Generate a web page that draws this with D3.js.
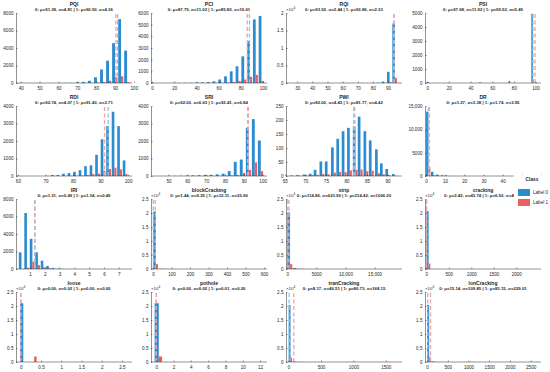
<!DOCTYPE html>
<html>
<head>
<meta charset="utf-8">
<script src="https://cdn.jsdelivr.net/npm/d3@7"></script>
<style>
  body { margin: 0; background: #fff; }
  svg text { font-family: "Liberation Sans", Arial, sans-serif; }
</style>
</head>
<body>
<svg id="chart" width="550" height="372"></svg>
<script>
// ---- data ----
const panelNames = ['PQI', 'PCI', 'RQI', 'PSI', 'RDI', 'SRI', 'PWI', 'DR',
  'IRI', 'blockCracking', 'strip', 'cracking', 'loose', 'pothole', 'tranCracking', 'lonCracking'];
const mean0 = [91.38, 87.79, 93.92, 97.68, 92.74, 92.03, 82.00, 1.27, 1.31, 1.44, 114.86, 2.45, 0.00, 0.00, 8.17, 15.14];
const std0 = [4.81, 11.02, 2.44, 11.92, 4.07, 6.63, 4.43, 3.38, 0.49, 9.25, 623.90, 43.74, 0.02, 0.02, 46.51, 109.85];
const mean1 = [90.50, 85.82, 93.86, 99.52, 91.43, 92.41, 81.77, 1.74, 1.34, 12.11, 314.42, 6.92, 0.00, 0.01, 80.73, 83.15];
const std1 = [4.36, 10.01, 2.33, 5.49, 3.71, 6.84, 4.42, 3.95, 0.49, 25.96, 1006.20, 48.57, 0.00, 0.26, 168.15, 229.01];

// bin centres, bin width, counts for Label 0 / Label 1
const pqiBins = [64.4, 67.6, 70.8, 74.0, 77.2, 80.4, 83.6, 86.8, 90.0, 93.2, 96.4];
const pqi0 = [10, 20, 70, 130, 250, 650, 1550, 2550, 4550, 7300, 3700];
const pqi1 = [0, 1, 3, 8, 20, 45, 110, 260, 650, 760, 110];

const pciBins = [20.6, 25.8, 31.0, 36.2, 41.4, 46.6, 51.8, 57.0, 62.2, 67.4, 72.6, 77.8, 83.0, 88.2, 93.4, 98.6];
const pci0 = [5, 8, 12, 20, 30, 50, 80, 150, 300, 570, 1000, 1430, 2280, 3600, 5450, 5750];
const pci1 = [0, 0, 1, 1, 2, 3, 5, 8, 20, 40, 100, 180, 300, 530, 700, 180];

const rqiBins = [80.5, 84.0, 87.5, 91.0, 94.5];
const rqi0 = [30, 80, 400, 3200, 17000];
const rqi1 = [0, 5, 30, 250, 1450];

const psiBins = [1.5, 49.5, 76.5, 97.5];
const psi0 = [60, 50, 150, 4950];
const psi1 = [5, 3, 15, 250];

const rdiBins = [73, 75, 77, 79, 81, 83, 85, 87, 89, 91, 93, 95, 97, 99];
const rdi0 = [56, 56, 130, 170, 240, 335, 560, 610, 1210, 2100, 2850, 3670, 2850, 890];
const rdi1 = [0, 0, 5, 10, 20, 30, 60, 110, 140, 300, 400, 480, 380, 110];

const sriBins = [51.0, 54.2, 57.4, 60.6, 63.8, 67.0, 70.2, 73.4, 76.6, 79.8, 83.0, 86.2, 89.4, 92.6, 95.8, 99.0];
const sri0 = [5, 10, 15, 25, 35, 45, 55, 70, 95, 130, 280, 810, 940, 2760, 3250, 2030];
const sri1 = [0, 0, 1, 2, 3, 4, 5, 6, 10, 20, 40, 60, 170, 350, 780, 280];

const pwiBins = [67.0, 68.4, 70.0, 71.5, 72.7, 74.1, 75.4, 76.9, 78.2, 79.5, 80.8, 82.2, 83.4, 84.8, 86.1, 87.6, 88.8, 90.1, 91.7];
const pwi0 = [2, 3, 5, 8, 22, 52, 52, 102, 133, 160, 172, 177, 212, 160, 127, 95, 45, 25, 7];
const pwi1 = [0, 1, 2, 3, 4, 7, 6, 12, 14, 14, 20, 22, 23, 17, 19, 10, 6, 3, 1];

const drBins = [1.3, 3.9, 6.5, 9.1, 11.7];
const dr0 = [13800, 900, 300, 150, 60];
const dr1 = [1900, 150, 50, 25, 10];

const iriBins = [0.42, 0.79, 1.16, 1.53, 1.90, 2.27, 2.64, 3.01, 3.38];
const iri0 = [1900, 6400, 3450, 1900, 950, 350, 130, 50, 15];
const iri1 = [10, 150, 850, 450, 200, 100, 30, 10, 3];

const blockBins = [15, 45, 75, 105, 135];
const block0 = [20500, 80, 40, 20, 10];
const block1 = [1750, 120, 50, 25, 10];

const stripBins = [500, 1500, 2500, 3500, 4500, 5500];
const strip0 = [20200, 350, 60, 25, 10, 5];
const strip1 = [1700, 150, 60, 30, 15, 8];

const crackBins = [50, 150, 250];
const crack0 = [20700, 30, 10];
const crack1 = [1950, 20, 10];

const looseBins = [0.06, 0.33];
const loose0 = [21000, 0];
const loose1 = [0, 1990];

const potholeBins = [0.3, 1.3, 12.3];
const pothole0 = [21000, 10, 2];
const pothole1 = [1980, 5, 1];

const tranBins = [30, 90, 150, 210, 270];
const tran0 = [20300, 200, 80, 40, 20];
const tran1 = [1500, 200, 100, 60, 30];

const lonBins = [50, 150, 250, 350, 450];
const lon0 = [20400, 200, 60, 30, 10];
const lon1 = [1700, 150, 60, 30, 15];

const binWidths = [3.2, 5.2, 3.5, 3, 2, 3.2, 1.36, 2.6, 0.37, 30, 1000, 100, 0.16, 1, 60, 100];

// axis ticks
const xTickSets = [
  [40, 50, 60, 70, 80, 90, 100], [0, 20, 40, 60, 80, 100], [30, 40, 50, 60, 70, 80, 90], [0, 20, 40, 60, 80, 100],
  [60, 70, 80, 90, 100], [50, 60, 70, 80, 90, 100], [65, 70, 75, 80, 85, 90], [0, 10, 20, 30, 40, 50, 60],
  [1, 2, 3, 4, 5, 6, 7], [0, 100, 200, 300, 400, 500, 600], [0, 5000, 10000, 15000], [0, 500, 1000, 1500, 2000],
  [0, 0.5, 1, 1.5, 2, 2.5], [0, 2, 4, 6, 8, 10, 12], [0, 500, 1000, 1500], [0, 500, 1000, 1500, 2000, 2500]
];
const yTickSets = [
  [0, 2000, 4000, 6000, 8000], [0, 1000, 2000, 3000, 4000, 5000, 6000], [0, 5000, 10000, 15000, 20000], [0, 1000, 2000, 3000, 4000, 5000],
  [0, 1000, 2000, 3000, 4000], [0, 1000, 2000, 3000, 4000], [0, 50, 100, 150, 200, 250], [0, 5000, 10000, 15000],
  [0, 2000, 4000, 6000, 8000], [0, 5000, 10000, 15000, 20000, 25000], [0, 5000, 10000, 15000, 20000, 25000], [0, 5000, 10000, 15000, 20000, 25000],
  [0, 5000, 10000, 15000, 20000, 25000], [0, 5000, 10000, 15000, 20000, 25000], [0, 5000, 10000, 15000, 20000, 25000], [0, 5000, 10000, 15000, 20000, 25000]
];
const xDomains = [
  [37.5, 99], [-1, 103.6], [22.6, 99.2], [-2, 105],
  [59.3, 101.4], [40.7, 102.3], [65.3, 93.5], [-0.5, 60],
  [0.05, 7.9], [-11, 616], [-200, 19700], [-30, 2550],
  [-0.12, 2.75], [-0.6, 12.8], [-40, 1750], [-50, 2750]
];
const sciY = [false, false, true, false, false, false, false, false, false, true, true, true, true, true, true, true];

const binSets = [pqiBins, pciBins, rqiBins, psiBins, rdiBins, sriBins, pwiBins, drBins, iriBins, blockBins, stripBins, crackBins, looseBins, potholeBins, tranBins, lonBins];
const count0Sets = [pqi0, pci0, rqi0, psi0, rdi0, sri0, pwi0, dr0, iri0, block0, strip0, crack0, loose0, pothole0, tran0, lon0];
const count1Sets = [pqi1, pci1, rqi1, psi1, rdi1, sri1, pwi1, dr1, iri1, block1, strip1, crack1, loose1, pothole1, tran1, lon1];

const legendLabels = ['Label 0', 'Label 1'];

// ---- layout ----
const colLeft = [16, 151, 286, 425];
const rowTop = [13, 106, 199, 292];
const plotW = 116;
const plotH = 70;

const blue = '#2b8ccf';
const red = '#ea5f5f';
const blueDash = '#8ec5ea';
const redDash = '#f3a2a2';
const ink = '#262626';
const font = '"Liberation Sans", Arial, sans-serif';

const svg = d3.select('#chart');

const fmtTick = (v) => (Math.abs(v) >= 10000 ? d3.format(',')(v) : String(v));

panelNames.forEach((name, i) => {
  const col = i % 4;
  const row = Math.floor(i / 4);
  const left = colLeft[col];
  const top = rowTop[row];
  const yTicks = yTickSets[i];
  const bw = binWidths[i];

  const x = d3.scaleLinear().domain(xDomains[i]).range([left, left + plotW]);
  const y = d3.scaleLinear().domain([0, yTicks[yTicks.length - 1]]).range([top + plotH, top]);

  const g = svg.append('g');
  const rows = binSets[i].map((c, k) => ({ c, n0: count0Sets[i][k], n1: count1Sets[i][k] }));

  // Label 0 bars (left half of the bin)
  g.append('g')
    .selectAll('rect')
    .data(rows)
    .join('rect')
    .attr('x', (d) => x(d.c - bw * 0.48))
    .attr('width', (d) => x(d.c) - x(d.c - bw * 0.48))
    .attr('y', (d) => y(d.n0))
    .attr('height', (d) => y(0) - y(d.n0))
    .attr('fill', blue);

  // Label 1 bars (right half)
  g.append('g')
    .selectAll('rect')
    .data(rows)
    .join('rect')
    .attr('x', (d) => x(d.c))
    .attr('width', (d) => x(d.c + bw * 0.38) - x(d.c))
    .attr('y', (d) => y(d.n1))
    .attr('height', (d) => y(0) - y(d.n1))
    .attr('fill', red);

  // mean lines
  [[mean0[i], blueDash], [mean1[i], redDash]].forEach(([m, colr]) => {
    g.append('line')
      .attr('x1', x(m)).attr('x2', x(m))
      .attr('y1', y(0)).attr('y2', top)
      .attr('stroke', colr)
      .attr('stroke-width', 1.3)
      .attr('stroke-dasharray', '4,2.5');
  });

  // x-axis
  const xa = g.append('g')
    .attr('transform', `translate(0,${top + plotH})`)
    .call(d3.axisBottom(x).tickValues(xTickSets[i]).tickFormat(fmtTick).tickSize(-1.5).tickSizeOuter(0).tickPadding(3.8));

  // y-axis
  const ya = g.append('g')
    .attr('transform', `translate(${left},0)`)
    .call(d3.axisLeft(y).tickValues(yTicks)
      .tickFormat((v) => (sciY[i] ? String(v / 10000) : fmtTick(v)))
      .tickSize(-1.5).tickSizeOuter(0).tickPadding(2.5));

  [xa, ya].forEach((a) => {
    a.attr('font-family', font).attr('font-size', 4.6);
    a.select('.domain').attr('stroke', ink).attr('stroke-width', 0.5);
    a.selectAll('.tick line').attr('stroke', ink).attr('stroke-width', 0.5);
    a.selectAll('.tick text').attr('fill', ink);
  });
  xa.select('.domain').attr('d', `M${left},0H${left + plotW}`);

  if (sciY[i]) {
    const ex = g.append('text')
      .attr('x', left)
      .attr('y', top - 2.2)
      .attr('font-size', 4.4)
      .attr('fill', ink)
      .text('\u00d710');
    ex.append('tspan').attr('dy', -1.6).attr('font-size', 3.2).text('4');
  }

  // titles
  g.append('text')
    .attr('x', left + plotW / 2)
    .attr('y', top - 7.2)
    .attr('text-anchor', 'middle')
    .attr('font-size', 5)
    .attr('font-weight', 'bold')
    .attr('fill', ink)
    .text(name);

  g.append('text')
    .attr('x', left + plotW / 2)
    .attr('y', top - 2)
    .attr('text-anchor', 'middle')
    .attr('font-size', 4.3)
    .attr('font-weight', 'bold')
    .attr('fill', ink)
    .text(`0: \u03bc=${mean0[i].toFixed(2)}, \u03c3=${std0[i].toFixed(2)} | 1: \u03bc=${mean1[i].toFixed(2)}, \u03c3=${std1[i].toFixed(2)}`);
});

// Handmade legend
const lg = svg.append('g');
lg.append('rect').attr('x', 514).attr('y', 175).attr('width', 36).attr('height', 34).attr('fill', '#fff');
lg.append('text')
  .attr('x', 532).attr('y', 180.5)
  .attr('text-anchor', 'middle')
  .attr('font-size', 4.8)
  .attr('font-weight', 'bold')
  .attr('fill', ink)
  .text('Class');
[blue, red].forEach((c, k) => {
  lg.append('rect')
    .attr('x', 518).attr('y', 189 + k * 10)
    .attr('width', 12).attr('height', 7)
    .attr('fill', c);
  lg.append('text')
    .attr('x', 533).attr('y', 194.3 + k * 10)
    .attr('font-size', 4.6)
    .attr('fill', ink)
    .text(legendLabels[k]);
});
</script>
</body>
</html>
